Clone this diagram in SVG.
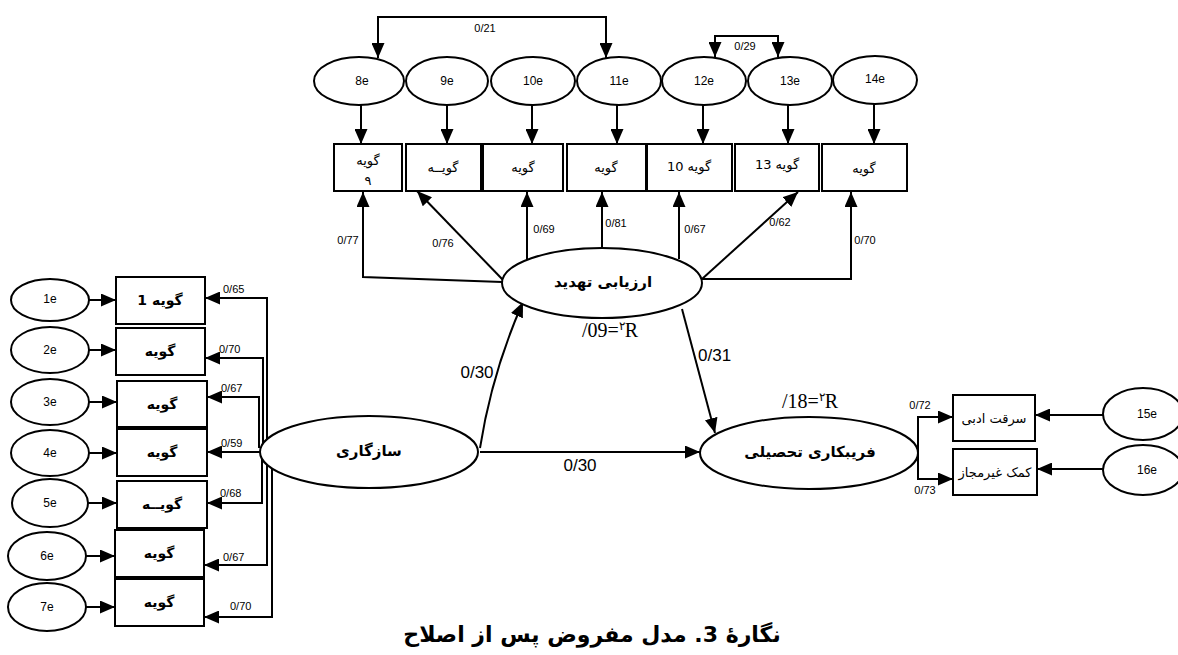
<svg xmlns="http://www.w3.org/2000/svg" width="1178" height="655" viewBox="0 0 1178 655">
<style>
.sh{fill:#fff;stroke:#000;stroke-width:2}
.ln{fill:none;stroke:#000;stroke-width:2}
.e{font-family:"Liberation Sans",Arial,sans-serif;font-size:12px;text-anchor:middle;dominant-baseline:central}
.fa{font-family:"DejaVu Sans",sans-serif;font-size:13px;text-anchor:middle;dominant-baseline:central}
.fab{font-family:"DejaVu Sans",sans-serif;font-size:14px;font-weight:bold;text-anchor:middle;dominant-baseline:central}
.big{font-family:"DejaVu Sans",sans-serif;font-size:15px;font-weight:bold;text-anchor:middle;dominant-baseline:central}
.s{font-family:"Liberation Sans",Arial,sans-serif;font-size:11px}
.m{font-family:"Liberation Sans",Arial,sans-serif;font-size:17px}
.r{font-family:"Liberation Serif","Times New Roman",serif;font-size:20px}
</style>
<defs>
<marker id="a" markerUnits="userSpaceOnUse" markerWidth="15" markerHeight="13" refX="15" refY="6.5" orient="auto">
<path d="M0,0 L15,6.5 L0,13 Z" fill="#000"/>
</marker>
</defs>

<g id="connectors" class="ln" marker-end="url(#a)">
<path d="M361,105 V144"/>
<path d="M447,105 V144"/>
<path d="M532,105 V144"/>
<path d="M617,105 V144"/>
<path d="M703,105 V144"/>
<path d="M788,105 V144"/>
<path d="M874,104 V144"/>
<path d="M492,17 H378 V58"/>
<path d="M492,17 H606 V58"/>
<path d="M746,36 H715 V57"/>
<path d="M746,36 H778 V57"/>
<path d="M502,282 L363,277 V192"/>
<path d="M503,280 L417,191"/>
<path d="M527,259 V192"/>
<path d="M602,248 V192"/>
<path d="M679,259 V192"/>
<path d="M702,279 L798,192"/>
<path d="M702,279 H851 V192"/>
<path d="M480,448 Q492,372 523,302"/>
<path d="M480,452 H700"/>
<path d="M682,309 L715,433"/>
<path d="M918,453 V417 H953"/>
<path d="M918,453 V479 H953"/>
<path d="M1103,415 H1035"/>
<path d="M1103,469 H1037"/>
<path d="M89,300 H116"/>
<path d="M89,350 H116"/>
<path d="M89,402 H117"/>
<path d="M89,453 H117"/>
<path d="M88,503 H117"/>
<path d="M86,556 H115"/>
<path d="M86,607 H115"/>
<path d="M267,440 V298 H205"/>
<path d="M263,445 V358 H205"/>
<path d="M259,448 V397 H207"/>
<path d="M260,452 H207"/>
<path d="M262,458 V503 H207"/>
<path d="M267,464 V565 H204"/>
<path d="M272,468 V617 H204"/>
</g>

<g id="labels">
<text class="s" x="485" y="32" text-anchor="middle">0/21</text>
<text class="s" x="745" y="50" text-anchor="middle">0/29</text>
<text class="s" x="348" y="244" text-anchor="middle">0/77</text>
<text class="s" x="443" y="247" text-anchor="middle">0/76</text>
<text class="s" x="544" y="233" text-anchor="middle">0/69</text>
<text class="s" x="616" y="227" text-anchor="middle">0/81</text>
<text class="s" x="695" y="233" text-anchor="middle">0/67</text>
<text class="s" x="780" y="226" text-anchor="middle">0/62</text>
<text class="s" x="865" y="244" text-anchor="middle">0/70</text>
<text class="m" x="477" y="378" text-anchor="middle">0/30</text>
<text class="m" x="580" y="471" text-anchor="middle">0/30</text>
<text class="m" x="698" y="361">0/31</text>
<text class="r" x="582" y="337">/09=<tspan font-size="12" dy="-7">۲</tspan><tspan dy="7">R</tspan></text>
<text class="r" x="782" y="408">/18=<tspan font-size="12" dy="-7">۲</tspan><tspan dy="7">R</tspan></text>
<text class="s" x="920" y="409" text-anchor="middle">0/72</text>
<text class="s" x="925" y="494" text-anchor="middle">0/73</text>
<text class="s" x="223" y="293">0/65</text>
<text class="s" x="219" y="353">0/70</text>
<text class="s" x="221" y="392">0/67</text>
<text class="s" x="221" y="447">0/59</text>
<text class="s" x="220" y="497">0/68</text>
<text class="s" x="223" y="561">0/67</text>
<text class="s" x="230" y="610">0/70</text>
</g>

<g id="e8"><ellipse class="sh" cx="359" cy="81" rx="45" ry="24"/><text class="e" x="362" y="81">8e</text></g>
<g id="e9"><ellipse class="sh" cx="447" cy="81" rx="41" ry="24"/><text class="e" x="447" y="81">9e</text></g>
<g id="e10"><ellipse class="sh" cx="533" cy="81" rx="42" ry="24"/><text class="e" x="533" y="81">10e</text></g>
<g id="e11"><ellipse class="sh" cx="619" cy="81" rx="42" ry="24"/><text class="e" x="619" y="81">11e</text></g>
<g id="e12"><ellipse class="sh" cx="704" cy="81" rx="42" ry="24"/><text class="e" x="704" y="81">12e</text></g>
<g id="e13"><ellipse class="sh" cx="790" cy="81" rx="42" ry="24"/><text class="e" x="790" y="81">13e</text></g>
<g id="e14"><ellipse class="sh" cx="875" cy="80" rx="42" ry="24"/><text class="e" x="875" y="79">14e</text></g>

<g id="t1"><rect class="sh" x="334" y="144" width="68" height="47"/><text class="fa" x="368" y="160" font-size="10">گویه</text><text class="fa" x="368" y="180" font-size="9">۹</text></g>
<g id="t2"><rect class="sh" x="406" y="144" width="75" height="47"/><text class="fa" x="443" y="167" font-size="12">گویــه</text></g>
<g id="t3"><rect class="sh" x="483" y="144" width="80" height="47"/><text class="fa" x="523" y="167">گویه</text></g>
<g id="t4"><rect class="sh" x="567" y="144" width="79" height="47"/><text class="fa" x="606" y="167">گویه</text></g>
<g id="t5"><rect class="sh" x="647" y="144" width="85" height="47"/><text class="fa" x="689" y="166">گویه 10</text></g>
<g id="t6"><rect class="sh" x="735" y="144" width="84" height="47"/><text class="fa" x="777" y="164" font-size="11">گویه 13</text></g>
<g id="t7"><rect class="sh" x="822" y="144" width="85" height="47"/><text class="fa" x="864" y="168">گویه</text></g>

<g id="threat"><ellipse class="sh" cx="602" cy="283" rx="100" ry="35"/><text class="big" x="603" y="282" font-size="14">ارزیابی تهدید</text></g>
<g id="adapt"><ellipse class="sh" cx="369" cy="452" rx="109" ry="36"/><text class="big" x="369" y="451">سازگاری</text></g>
<g id="cheat"><ellipse class="sh" cx="809" cy="453" rx="109" ry="36"/><text class="big" x="810" y="452" font-size="14">فریبکاری تحصیلی</text></g>

<g id="c1"><rect class="sh" x="953" y="395" width="82" height="46"/><text class="fa" x="994" y="418">سرقت ادبی</text></g>
<g id="c2"><rect class="sh" x="953" y="449" width="84" height="46"/><text class="fa" x="995" y="472" font-size="12">کمک غیرمجاز</text></g>
<g id="e15"><ellipse class="sh" cx="1143" cy="414" rx="40" ry="26"/><text class="e" x="1147" y="414">15e</text></g>
<g id="e16"><ellipse class="sh" cx="1143" cy="470" rx="40" ry="25"/><text class="e" x="1147" y="470">16e</text></g>

<g id="e1"><ellipse class="sh" cx="50" cy="300" rx="39" ry="21"/><text class="e" x="50" y="299">1e</text></g>
<g id="e2"><ellipse class="sh" cx="50" cy="350" rx="39" ry="23"/><text class="e" x="50" y="350">2e</text></g>
<g id="e3"><ellipse class="sh" cx="50" cy="402" rx="39" ry="23"/><text class="e" x="50" y="402">3e</text></g>
<g id="e4"><ellipse class="sh" cx="50" cy="453" rx="39" ry="23"/><text class="e" x="50" y="453">4e</text></g>
<g id="e5"><ellipse class="sh" cx="50" cy="503" rx="38" ry="24"/><text class="e" x="50" y="503">5e</text></g>
<g id="e6"><ellipse class="sh" cx="47" cy="556" rx="39" ry="24"/><text class="e" x="47" y="556">6e</text></g>
<g id="e7"><ellipse class="sh" cx="47" cy="607" rx="39" ry="24"/><text class="e" x="47" y="607">7e</text></g>

<g id="i1"><rect class="sh" x="116" y="277" width="89" height="47"/><text class="fab" x="160" y="300">گویه 1</text></g>
<g id="i2"><rect class="sh" x="116" y="328" width="89" height="47"/><text class="fab" x="160" y="351">گویه</text></g>
<g id="i3"><rect class="sh" x="117" y="381" width="90" height="46"/><text class="fab" x="162" y="404">گویه</text></g>
<g id="i4"><rect class="sh" x="117" y="429" width="90" height="47"/><text class="fab" x="162" y="452">گویه</text></g>
<g id="i5"><rect class="sh" x="117" y="481" width="90" height="47"/><text class="fab" x="162" y="504">گویــه</text></g>
<g id="i6"><rect class="sh" x="115" y="530" width="89" height="47"/><text class="fab" x="159" y="553">گویه</text></g>
<g id="i7"><rect class="sh" x="115" y="579" width="89" height="47"/><text class="fab" x="159" y="602">گویه</text></g>

<text id="caption" x="592" y="642" font-family="DejaVu Sans, sans-serif" font-size="22" font-weight="bold" text-anchor="middle" direction="rtl">نگارهٔ 3. مدل مفروض پس از اصلاح</text>
</svg>
